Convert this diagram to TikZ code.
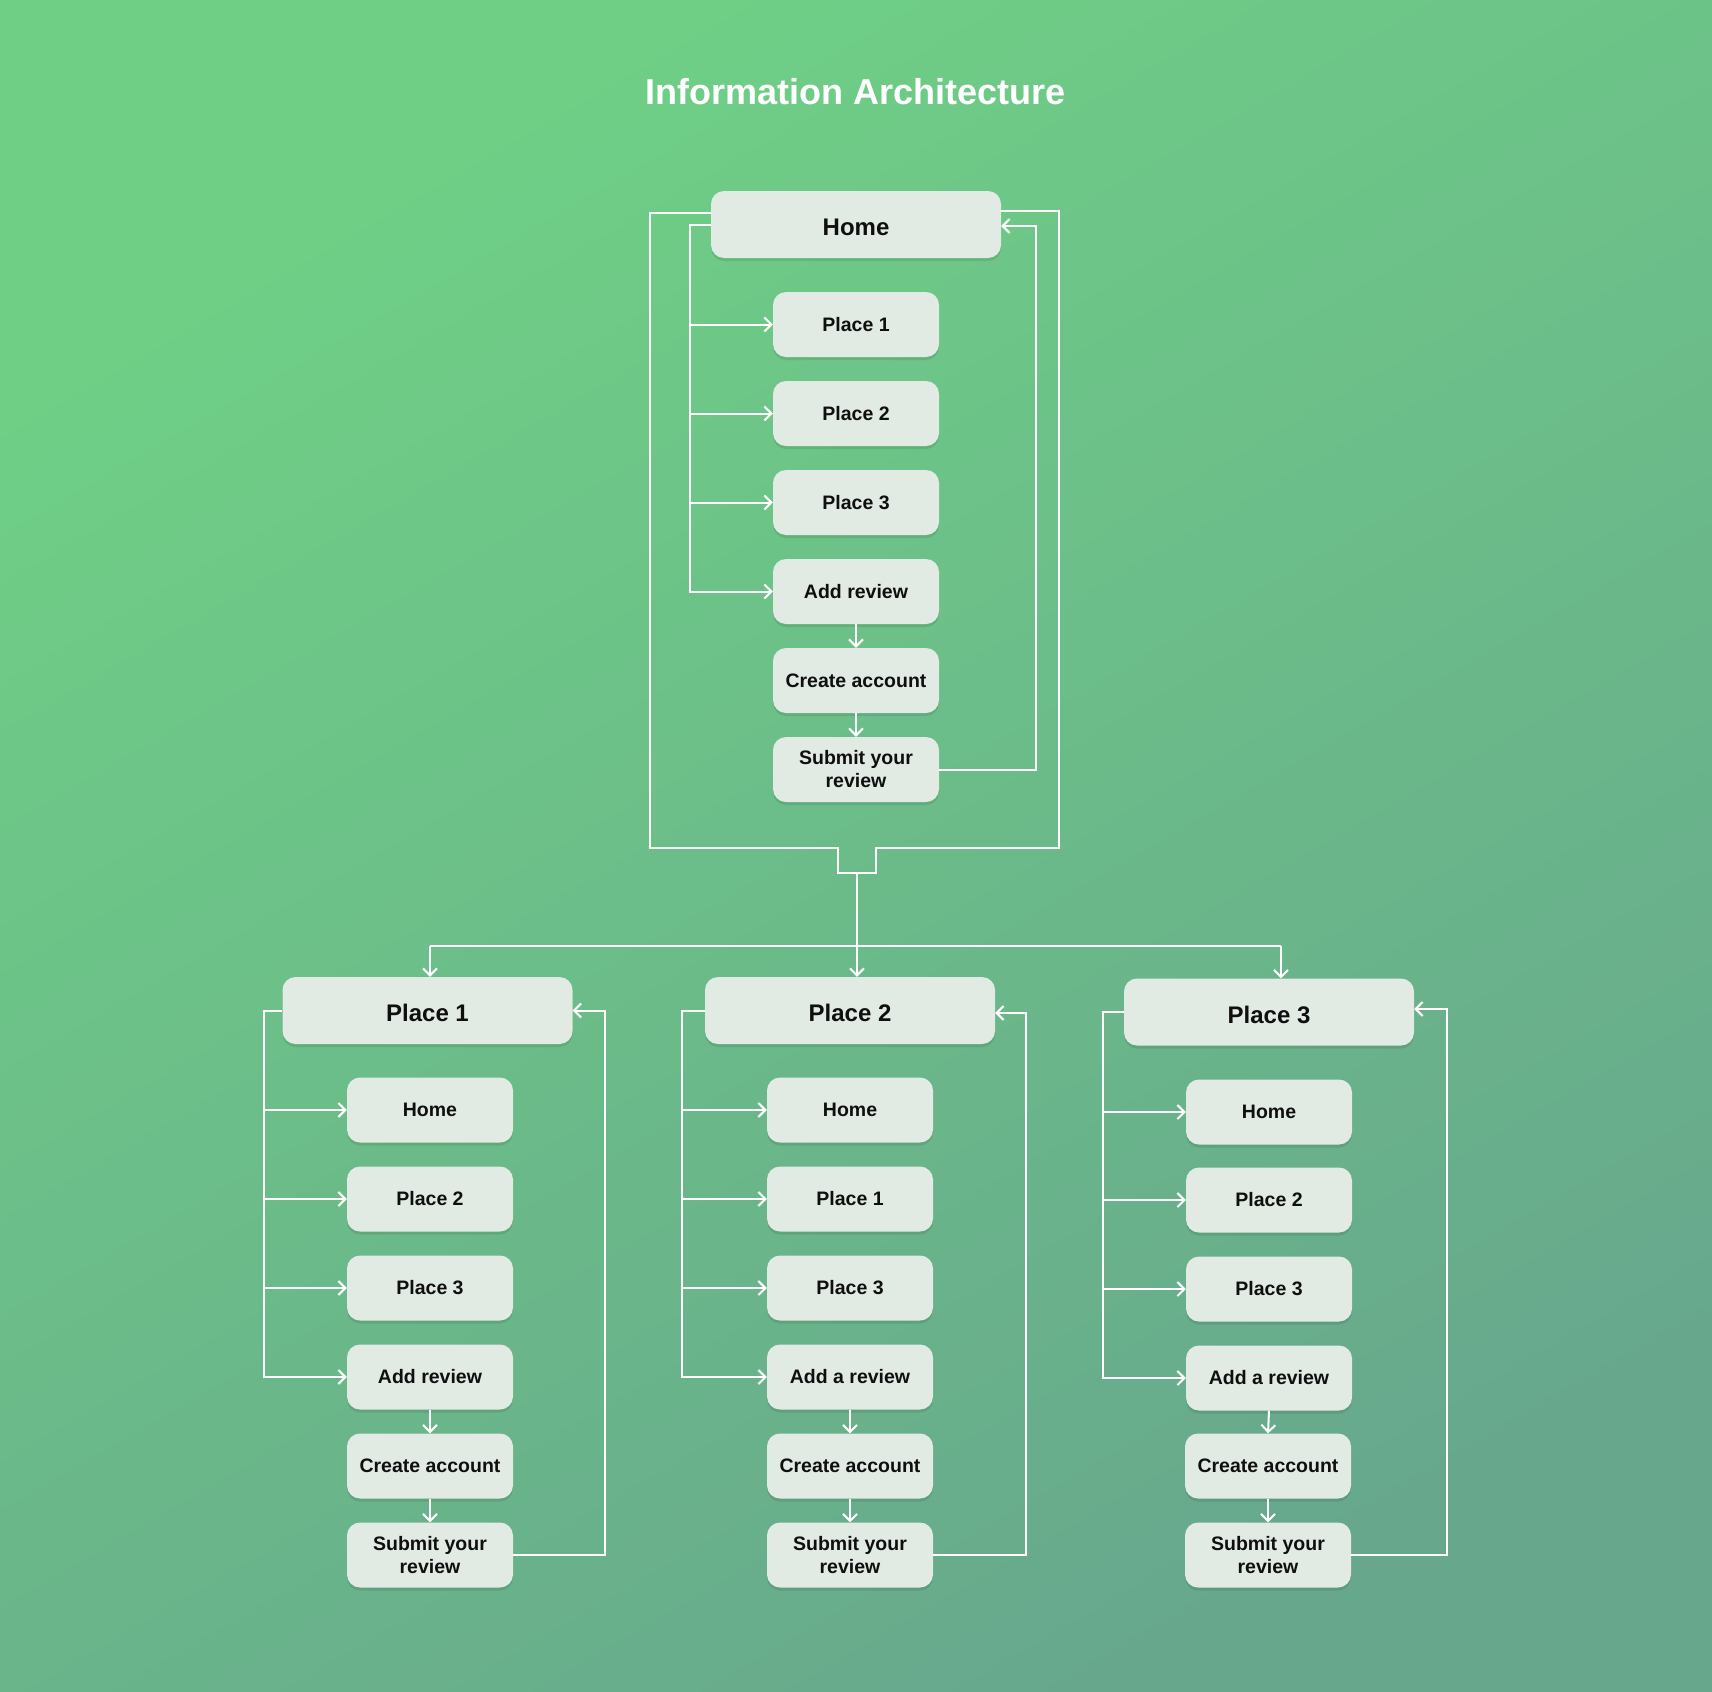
\documentclass[tikz,border=0pt]{standalone}
\usepackage{fontspec}
\setmainfont{Liberation Sans}
\usetikzlibrary{arrows.meta,shadows}
\definecolor{bgA}{RGB}{111,208,133}
\definecolor{bgB}{RGB}{103,168,141}
\definecolor{boxfill}{RGB}{226,234,228}
\definecolor{ink}{RGB}{15,15,15}
\tikzset{
  boxbase/.style={draw=none, fill=boxfill, rounded corners=13pt, text=ink, inner sep=2pt, align=center,
    drop shadow={shadow xshift=0pt, shadow yshift=-3pt, opacity=0.09, fill=black}},
  mainbox/.style={boxbase, minimum width=290pt, minimum height=67pt, text height=22pt, text depth=0pt, font=\bfseries\fontsize{24}{28}\selectfont},
  subbox/.style={boxbase, minimum width=166pt, minimum height=65pt, font=\bfseries\fontsize{19.5}{23}\selectfont},
  wire/.style={draw=white, line width=2pt},
  arr/.style={wire, -{Straight Barb[length=7pt,width=14pt]}},
  titletext/.style={text=white, font=\bfseries\fontsize{36}{40}\selectfont}
}
\begin{document}
\begin{tikzpicture}[x=1pt,y=-1pt]
\useasboundingbox (0,0) rectangle (1712,1691);
\shade[top color=bgA, bottom color=bgB, shading angle=30] (0,0) rectangle (1712,1691);

\node[titletext] (title) at (856,91.7) {Information Architecture};

% ---------- top group ----------
\node[mainbox] (home) at (856,224.5) {Home};
\node[subbox] (t1) at (856,324.5) {Place 1};
\node[subbox] (t2) at (856,413.5) {Place 2};
\node[subbox] (t3) at (856,502.5) {Place 3};
\node[subbox] (t4) at (856,591.5) {Add review};
\node[subbox] (t5) at (856,680.5) {Create account};
\node[subbox] (t6) at (856,769.5) {Submit your\\review};

\coordinate (TL) at (690,224.5);
\draw[arr] (home.west) -- (TL) |- (t4.west);
\foreach \t in {t1,t2,t3} \draw[arr] (TL |- \t.west) -- (\t.west);
\draw[arr] (t4.south) -- (t5.north);
\draw[arr] (t5.south) -- (t6.north);
\coordinate (TR) at (1036,226);
\draw[arr] (t6.east) -| (TR) -- (TR -| home.east);

\coordinate (OL) at (650,848);
\coordinate (OR) at (1059,848);
\coordinate (BL) at (838,873);
\coordinate (BR) at (876,873);
\coordinate (B) at (857,873);
\draw[wire] ([yshift=11.5pt]home.west) -| (OL) -- (OL -| BL) -- (BL) -- (BR) -- (OR -| BR) -- (OR) |- ([yshift=13.5pt]home.east);

% ---------- lower groups ----------
\node[mainbox] (p1) at (427.5,1010.5) {Place 1};
\node[mainbox] (p2) at (850,1010.5) {Place 2};
\node[mainbox] (p3) at (1269,1012) {Place 3};

\draw[arr] (B) -- (B |- p2.north);
\coordinate (H1) at (430,946);
\coordinate (H3) at (1281,946);
\draw[wire] (H1) -- (H3);
\draw[arr] (H1) -- (H1 |- p1.north);
\draw[arr] (H3) -- (H3 |- p3.north);

% group 1
\node[subbox] (a1) at (430,1110) {Home};
\node[subbox] (a2) at (430,1199) {Place 2};
\node[subbox] (a3) at (430,1288) {Place 3};
\node[subbox] (a4) at (430,1377) {Add review};
\node[subbox] (a5) at (430,1466) {Create account};
\node[subbox] (a6) at (430,1555) {Submit your\\review};
\coordinate (L1) at (264,1010.5);
\draw[arr] (p1.west) -- (L1) |- (a4.west);
\foreach \t in {a1,a2,a3} \draw[arr] (L1 |- \t.west) -- (\t.west);
\draw[arr] (a4.south) -- (a5.north);
\draw[arr] (a5.south) -- (a6.north);
\coordinate (R1) at (605,1010.5);
\draw[arr] (a6.east) -| (R1) -- (p1.east);

% group 2
\node[subbox] (b1) at (850,1110) {Home};
\node[subbox] (b2) at (850,1199) {Place 1};
\node[subbox] (b3) at (850,1288) {Place 3};
\node[subbox] (b4) at (850,1377) {Add a review};
\node[subbox] (b5) at (850,1466) {Create account};
\node[subbox] (b6) at (850,1555) {Submit your\\review};
\coordinate (L2) at (682,1010.5);
\draw[arr] (p2.west) -- (L2) |- (b4.west);
\foreach \t in {b1,b2,b3} \draw[arr] (L2 |- \t.west) -- (\t.west);
\draw[arr] (b4.south) -- (b5.north);
\draw[arr] (b5.south) -- (b6.north);
\coordinate (R2) at (1026,1013);
\draw[arr] (b6.east) -| (R2) -- (R2 -| p2.east);

% group 3
\node[subbox] (c1) at (1269,1112) {Home};
\node[subbox] (c2) at (1269,1200) {Place 2};
\node[subbox] (c3) at (1269,1289) {Place 3};
\node[subbox] (c4) at (1269,1378) {Add a review};
\node[subbox] (c5) at (1268,1466) {Create account};
\node[subbox] (c6) at (1268,1555) {Submit your\\review};
\coordinate (L3) at (1103,1012);
\draw[arr] (p3.west) -- (L3) |- (c4.west);
\foreach \t in {c1,c2,c3} \draw[arr] (L3 |- \t.west) -- (\t.west);
\draw[arr] (c4.south) -- (c5.north);
\draw[arr] (c5.south) -- (c6.north);
\coordinate (R3) at (1447,1009);
\draw[arr] (c6.east) -| (R3) -- (R3 -| p3.east);
\end{tikzpicture}
\end{document}
